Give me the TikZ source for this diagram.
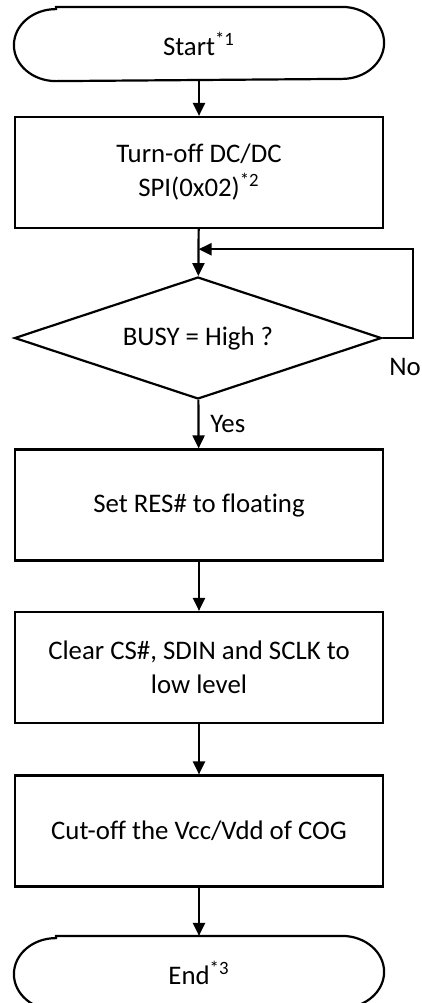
\documentclass[tikz,border=0pt]{standalone}
\usepackage{fontspec}
\setmainfont{Carlito}[Ligatures=CommonOff]
\usetikzlibrary{positioning}
\usetikzlibrary{shapes.geometric}
\usetikzlibrary{arrows.meta}
\usetikzlibrary{calc}

\begin{document}
\begin{tikzpicture}[x=0.5pt, y=-0.5pt,
		every node/.style={font=\fontsize{13.4pt}{17pt}\selectfont},
		term/.style={line width=1.1pt, rectangle, minimum width=184pt, minimum height=36pt},
		procbox/.style={draw=black, line width=1.1pt, rectangle, align=center, minimum width=184pt, minimum height=55.5pt},
		decision/.style={draw=black, line width=1.1pt, diamond, aspect=3, minimum width=183.5pt, minimum height=61pt},
		flow/.style={black, line width=1.1pt, -{Triangle[length=6.5pt, width=6pt]}}]
			\useasboundingbox (0, 0) rectangle (422, 1003);
			\node[term] (start) at (199, 44) {Start\textsuperscript{*1}};
			\node[procbox] (dcdc) at (199, 172.5) {Turn-off DC/DC\\SPI(0x02)\textsuperscript{*2}};
			\node[decision] (busy) at (198, 338) {BUSY = High ?};
			\node[procbox] (res) at (199, 505) {Set RES\# to floating};
			\node[procbox] (clear) at (199, 667.5) {Clear CS\#, SDIN and SCLK to\\low level};
			\node[procbox] (vcc) at (199, 831) {Cut-off the Vcc/Vdd of COG};
			\node[term] (end) at (199, 973) {End\textsuperscript{*3}};
			% terminal outlines with flat elliptic ends
			\foreach \t in {start, end}{
				\draw[black, line width=1.1pt] ([xshift=21pt]\t.north west) -- ([xshift=-21pt]\t.north east)
					arc[start angle=90, end angle=-90, x radius=21pt, y radius=18pt]
					-- ([xshift=21pt]\t.south west)
					arc[start angle=270, end angle=90, x radius=21pt, y radius=18pt] -- cycle;
			}
			% main flow
			\draw[flow] (start) -- (dcdc);
			\draw[flow] (dcdc) -- (busy);
			\draw[flow] (busy) -- node[right, xshift=2pt] {Yes} (res);
			\foreach \a/\b in {res/clear, clear/vcc, vcc/end}{
				\draw[flow] (\a) -- (\b);
			}
			% loop back while busy
			\coordinate (join) at ($(dcdc.south)!0.43!(busy.north)$);
			\coordinate (loopc) at (413, 338);
			\draw[flow] (busy.east) -- (loopc) |- (join);
			\node (no) at (405, 367) {No};
		\end{tikzpicture}
\end{document}
